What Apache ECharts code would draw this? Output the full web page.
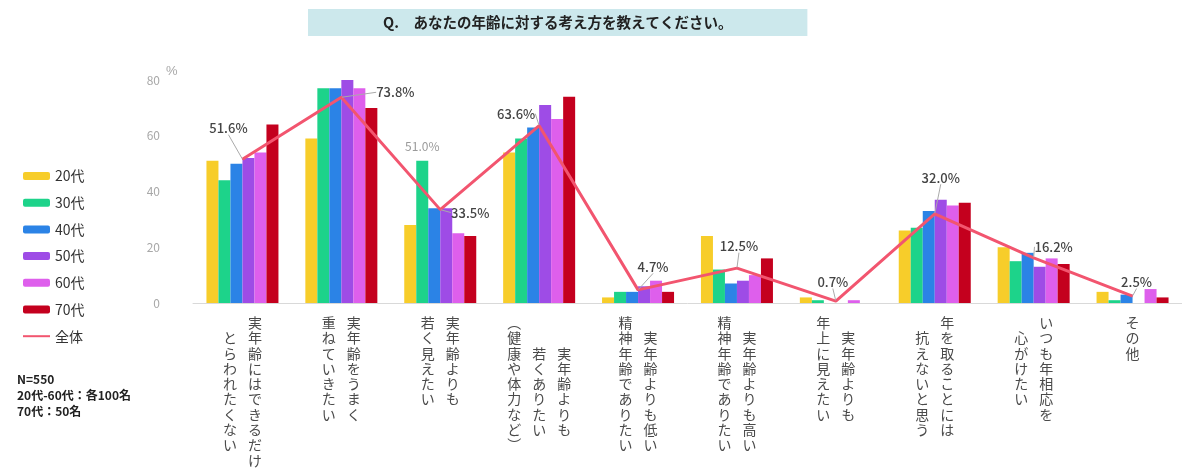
<!DOCTYPE html>
<html>
<head>
<meta charset="utf-8">
<script src="https://cdn.jsdelivr.net/npm/echarts@6/dist/echarts.min.js"></script>
<style>
html, body { margin: 0; padding: 0; background: #fff; }
#main { width: 1182px; height: 474px; }
</style>
</head>
<body>
<div id="main"></div>
<script>
// 設問の選択肢（\n で縦書きの列を区切る・右の列から読む）
var categories = [
    '実年齢にはできるだけ\nとらわれたくない',
    '実年齢をうまく\n重ねていきたい',
    '実年齢よりも\n若く見えたい',
    '実年齢よりも\n若くありたい\n︵健康や体力など︶',
    '実年齢よりも低い\n精神年齢でありたい',
    '実年齢よりも高い\n精神年齢でありたい',
    '実年齢よりも\n年上に見えたい',
    '年を取ることには\n抗えないと思う',
    'いつも年相応を\n心がけたい',
    'その他'
];
var ageNames = ['20代', '30代', '40代', '50代', '60代', '70代'];
var age20 = [51, 59, 28, 54, 2, 24, 2, 26, 20, 4];
var age30 = [44, 77, 51, 59, 4, 12, 1, 27, 15, 1];
var age40 = [50, 77, 34, 63, 4, 7, 0, 33, 18, 3];
var age50 = [52, 80, 34, 71, 6, 8, 0, 37, 13, 0];
var age60 = [54, 77, 25, 66, 8, 10, 1, 35, 16, 5];
var age70 = [64, 70, 24, 74, 4, 16, 0, 36, 14, 2];
var total = [51.6, 73.8, 33.5, 63.6, 4.7, 12.5, 0.7, 32.0, 16.2, 2.5];
var yTicks = [0, 20, 40, 60, 80];

var colors = ['#f7cd2a', '#1dd38a', '#2b83e6', '#9e4ce6', '#de5fec', '#c4001e'];
var lineColor = '#f2556f';
// 全体ラベルのずらし量
var labelShift = [[-14, -19], [54, 7], [30, 15], [-23, 0], [15, -11], [2, -10], [-3, -7], [6, -24], [20, 1], [4, -2]];

var myChart = echarts.init(document.getElementById('main'));

function verticalLabel(value) {
    var cols = value.split('\n').reverse();
    var len = 0;
    cols.forEach(function (c) { len = Math.max(len, c.length); });
    var rows = [];
    for (var r = 0; r < len; r++) {
        var row = cols.map(function (c) {
            var off = Math.round((len - c.length) / 2);
            return c.charAt(r - off) || '　';
        });
        rows.push(row.join('{g|　}'));
    }
    return rows.join('\n');
}

var ageData = [age20, age30, age40, age50, age60, age70];
var series = ageData.map(function (arr, i) {
    var data = arr.map(function (v, j) {
        // 30代の「若く見えたい」には単独ラベルあり
        if (i == 1 && j == 2) {
            return {
                value: v,
                label: {
                    show: true, position: 'top', distance: 8,
                    formatter: v.toFixed(1) + '%', color: '#9a9a9a', fontSize: 12
                }
            };
        }
        return v;
    });
    return {
        name: ageNames[i],
        type: 'bar',
        barWidth: 12,
        barGap: '0%',
        itemStyle: { color: colors[i] },
        data: data
    };
});
series.push({
    name: '全体',
    type: 'line',
    symbol: 'circle',
    symbolSize: 1,
    showSymbol: true,
    z: 5,
    lineStyle: { color: lineColor, width: 3 },
    itemStyle: { color: lineColor },
    label: {
        show: true,
        position: 'top',
        formatter: function (p) { return p.value.toFixed(1) + '%'; },
        color: '#444',
        fontSize: 13,
        fontWeight: 500
    },
    labelLine: { show: true, lineStyle: { color: '#aaa', width: 1 } },
    labelLayout: function (params) {
        var s = labelShift[params.dataIndex];
        return { dx: s[0], dy: s[1] };
    },
    data: total
});

var option = {
    backgroundColor: '#fff',
    textStyle: { fontFamily: '"Noto Sans CJK JP", "Noto Sans", sans-serif' },
    title: {
        text: 'Q.　あなたの年齢に対する考え方を教えてください。',
        left: 308,
        top: 9,
        padding: [5, 75, 5, 75],
        backgroundColor: '#cce8ec',
        textStyle: { fontSize: 14.5, fontWeight: 'bold', color: '#222', lineHeight: 17 }
    },
    legend: {
        orient: 'vertical',
        left: 17,
        top: 164,
        itemWidth: 27,
        itemHeight: 8,
        itemGap: 12.7,
        textStyle: { fontSize: 14, color: '#333' },
        data: ageNames.concat([{ name: '全体', itemStyle: { opacity: 0 } }])
    },
    grid: {
        left: 193,
        top: 80,
        width: 991,
        height: 223
    },
    xAxis: {
        type: 'category',
        data: categories,
        axisLine: { lineStyle: { color: '#d9d9d9' } },
        axisTick: { show: false },
        axisLabel: {
            interval: 0,
            margin: 12,
            fontSize: 14,
            lineHeight: 15.3,
            color: '#4a4a4a',
            formatter: verticalLabel,
            rich: { g: { fontSize: 11, lineHeight: 15.3 } }
        }
    },
    yAxis: {
        type: 'value',
        min: yTicks[0],
        max: yTicks[yTicks.length - 1],
        interval: 20,
        axisLine: { show: false },
        axisTick: { show: false },
        splitLine: { show: false },
        axisLabel: { margin: 33, fontSize: 12, color: '#a8a8a8' }
    },
    graphic: [
        {
            type: 'text', left: 166, top: 65,
            style: { text: '%', fontSize: 13, fill: '#a8a8a8' }
        },
        {
            type: 'text', left: 17, top: 371,
            style: {
                text: 'N=550\n20代-60代：各100名\n70代：50名',
                fontSize: 12, fontWeight: 'bold', fill: '#222', lineHeight: 16,
                fontFamily: '"Noto Sans CJK JP", sans-serif'
            }
        }
    ],
    series: series
};
myChart.setOption(option);
</script>
</body>
</html>
